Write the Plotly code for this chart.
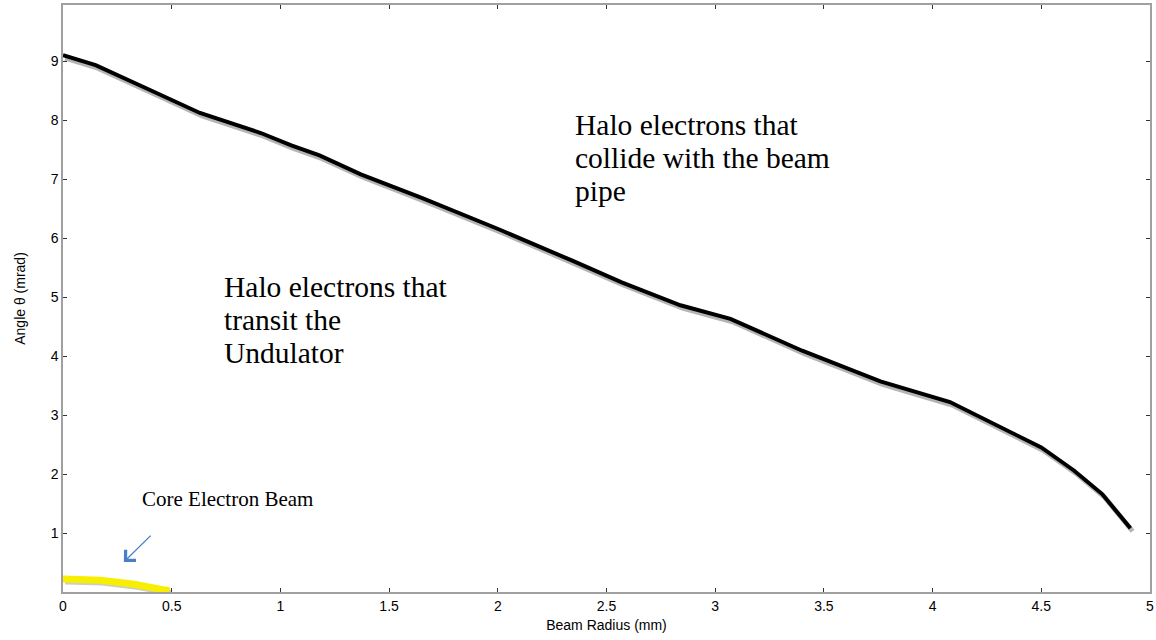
import plotly.graph_objects as go

# Boundary curve (black)
radius_mm = [0.0, 0.15, 0.40, 0.63, 0.91, 1.05, 1.18, 1.37, 1.65, 2.01, 2.34, 2.57, 2.84, 3.07, 3.40, 3.76, 4.08, 4.50, 4.65, 4.78, 4.91]
angle_mrad = [9.10, 8.93, 8.51, 8.12, 7.78, 7.57, 7.40, 7.08, 6.68, 6.14, 5.62, 5.25, 4.86, 4.63, 4.09, 3.57, 3.22, 2.45, 2.06, 1.66, 1.08]

# Core beam (yellow)
core_r = [0.0, 0.17, 0.32, 0.49]
core_a = [0.22, 0.20, 0.135, 0.02]

x_ticks = [0, 0.5, 1, 1.5, 2, 2.5, 3, 3.5, 4, 4.5, 5]
y_ticks = [1, 2, 3, 4, 5, 6, 7, 8, 9]

collide_lines = ["Halo electrons that", "collide with the beam", "pipe"]
transit_lines = ["Halo electrons that", "transit the", "Undulator"]

fig = go.Figure()
# shadows
fig.add_trace(go.Scatter(x=[v + 0.01 for v in radius_mm], y=[v - 0.05 for v in angle_mrad],
                         mode="lines", line=dict(color="rgba(150,150,150,0.7)", width=5),
                         hoverinfo="skip", showlegend=False))
fig.add_trace(go.Scatter(x=radius_mm, y=angle_mrad, mode="lines",
                         line=dict(color="black", width=4), showlegend=False))
fig.add_trace(go.Scatter(x=[v + 0.01 for v in core_r], y=[v - 0.04 for v in core_a],
                         mode="lines", line=dict(color="rgba(170,170,170,0.6)", width=6),
                         hoverinfo="skip", showlegend=False))
fig.add_trace(go.Scatter(x=core_r, y=core_a, mode="lines",
                         line=dict(color="#f7ee00", width=7), showlegend=False))

serif = "Liberation Serif, Times New Roman, serif"
line_gap = 0.56  # ~33px in data units
for i, t in enumerate(collide_lines):
    fig.add_annotation(x=2.346, y=7.91 - i * line_gap, xref="x", yref="y", xanchor="left", yanchor="middle",
                       text=t, showarrow=False, font=dict(family=serif, size=29.5, color="black"))
for i, t in enumerate(transit_lines):
    fig.add_annotation(x=0.73, y=5.17 - i * line_gap, xref="x", yref="y", xanchor="left", yanchor="middle",
                       text=t, showarrow=False, font=dict(family=serif, size=29.5, color="black"))
fig.add_annotation(x=0.355, y=1.57, xref="x", yref="y", xanchor="left", yanchor="middle",
                   text="Core Electron Beam", showarrow=False,
                   font=dict(family=serif, size=21, color="black"))
# blue arrow
fig.add_annotation(x=0.28, y=0.51, ax=0.41, ay=0.98, xref="x", yref="y", axref="x", ayref="y",
                   text="", showarrow=True, arrowhead=4, arrowsize=2.2, arrowwidth=1.3,
                   arrowcolor="#4a7fc8")

sans = "Liberation Sans, Arial, sans-serif"
axis_font = dict(family=sans, size=14, color="black")
fig.update_layout(
    width=1156, height=640,
    margin=dict(l=63, r=6, t=5, b=48),
    paper_bgcolor="white", plot_bgcolor="white",
    showlegend=False,
    xaxis=dict(range=[0, 5], tickvals=x_ticks, ticktext=[("%g" % v) for v in x_ticks],
               ticks="inside", ticklen=4, tickcolor="#333", showgrid=False, zeroline=False,
               showline=True, linecolor="#a0a0a0", linewidth=1.5, mirror="ticks",
               tickfont=axis_font, automargin=False,
               title=dict(text="Beam Radius (mm)", font=dict(family=sans, size=14, color="black"), standoff=8)),
    yaxis=dict(range=[0, 9.95], tickvals=y_ticks, ticktext=[str(v) for v in y_ticks],
               ticks="inside", ticklen=4, tickcolor="#333", showgrid=False, zeroline=False,
               showline=True, linecolor="#a0a0a0", linewidth=1.5, mirror="ticks",
               tickfont=axis_font, automargin=False,
               title=dict(text="Angle θ (mrad)", font=dict(family=sans, size=14, color="black"), standoff=22)),
)

fig.write_html("out.html", config={"displayModeBar": False},
               post_script="document.body.style.margin='0';")
